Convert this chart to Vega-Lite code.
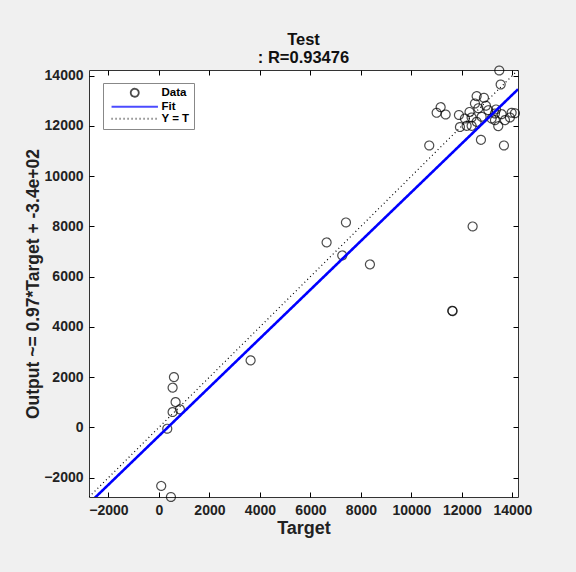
{
  "$schema": "https://vega.github.io/schema/vega-lite/v6.json",
  "autosize": "none",
  "width": 429,
  "height": 427,
  "padding": {"left": 89, "top": 70, "right": 58, "bottom": 75},
  "background": "#f0f0f0",
  "title": {
    "text": ["Test", ": R=0.93476"],
    "font": "Liberation Sans",
    "fontSize": 16.5,
    "fontWeight": "bold",
    "lineHeight": 18,
    "anchor": "middle",
    "offset": -3,
    "color": "#111111"
  },
  "datasets": {
    "points": [
      {"T": 90, "O": -2330, "series": "Data"},
      {"T": 475, "O": -2770, "series": "Data"},
      {"T": 594, "O": 2000, "series": "Data"},
      {"T": 541, "O": 1580, "series": "Data"},
      {"T": 660, "O": 1006, "series": "Data"},
      {"T": 541, "O": 610, "series": "Data"},
      {"T": 831, "O": 716, "series": "Data"},
      {"T": 330, "O": -53, "series": "Data"},
      {"T": 3630, "O": 2665, "series": "Data"},
      {"T": 7406, "O": 8154, "series": "Data"},
      {"T": 6640, "O": 7359, "series": "Data"},
      {"T": 7260, "O": 6842, "series": "Data"},
      {"T": 8356, "O": 6484, "series": "Data"},
      {"T": 12423, "O": 7995, "series": "Data"},
      {"T": 11616, "O": 4642, "series": "Data"},
      {"T": 11630, "O": 4625, "series": "Data"},
      {"T": 13478, "O": 14200, "series": "Data"},
      {"T": 13533, "O": 13643, "series": "Data"},
      {"T": 12582, "O": 13179, "series": "Data"},
      {"T": 12871, "O": 13115, "series": "Data"},
      {"T": 11156, "O": 12741, "series": "Data"},
      {"T": 10998, "O": 12518, "series": "Data"},
      {"T": 11354, "O": 12450, "series": "Data"},
      {"T": 11881, "O": 12430, "series": "Data"},
      {"T": 10705, "O": 11217, "series": "Data"},
      {"T": 12752, "O": 11442, "series": "Data"},
      {"T": 13663, "O": 11217, "series": "Data"},
      {"T": 13438, "O": 11985, "series": "Data"},
      {"T": 11921, "O": 11950, "series": "Data"},
      {"T": 13968, "O": 12518, "series": "Data"},
      {"T": 14099, "O": 12500, "series": "Data"},
      {"T": 12515, "O": 12888, "series": "Data"},
      {"T": 13042, "O": 12621, "series": "Data"},
      {"T": 13307, "O": 12490, "series": "Data"},
      {"T": 13572, "O": 12462, "series": "Data"},
      {"T": 13900, "O": 12331, "series": "Data"},
      {"T": 12118, "O": 12290, "series": "Data"},
      {"T": 12383, "O": 12331, "series": "Data"},
      {"T": 12779, "O": 12358, "series": "Data"},
      {"T": 13175, "O": 12290, "series": "Data"},
      {"T": 13703, "O": 12225, "series": "Data"},
      {"T": 12185, "O": 11998, "series": "Data"},
      {"T": 12383, "O": 11998, "series": "Data"},
      {"T": 12582, "O": 12157, "series": "Data"},
      {"T": 13307, "O": 12225, "series": "Data"},
      {"T": 12650, "O": 12700, "series": "Data"},
      {"T": 12300, "O": 12550, "series": "Data"},
      {"T": 12950, "O": 12800, "series": "Data"},
      {"T": 13350, "O": 12650, "series": "Data"}
    ],
    "lines": [
      {"T": -2770, "O": -3027, "series": "Fit"},
      {"T": 14220, "O": 13453, "series": "Fit"},
      {"T": -2770, "O": -2770, "series": "Y = T"},
      {"T": 14220, "O": 14220, "series": "Y = T"}
    ]
  },
  "layer": [
    {
      "data": {"name": "points"},
      "mark": {"type": "point", "filled": false, "size": 80, "strokeWidth": 1.2, "clip": false},
      "encoding": {
        "x": {
          "field": "T",
          "type": "quantitative",
          "scale": {"domain": [-2770, 14220], "nice": false, "zero": false},
          "axis": {"orient": "bottom", "title": "Target", "format": "d", "values": [-2000, 0, 2000, 4000, 6000, 8000, 10000, 12000, 14000]}
        },
        "y": {
          "field": "O",
          "type": "quantitative",
          "scale": {"domain": [-2770, 14220], "nice": false, "zero": false},
          "axis": {"orient": "left", "title": "Output ~= 0.97*Target + -3.4e+02", "format": "d", "values": [-2000, 0, 2000, 4000, 6000, 8000, 10000, 12000, 14000]}
        },
        "color": {
          "field": "series",
          "type": "nominal",
          "scale": {"domain": ["Data", "Fit", "Y = T"], "range": ["#000000", "#0000ff", "#000000"]},
          "legend": {
            "title": null,
            "orient": "none",
            "legendX": 14,
            "legendY": 13,
            "fillColor": "#ffffff",
            "strokeColor": "#888888",
            "padding": 4,
            "symbolSize": 64,
            "symbolOffset": 22,
            "symbolStrokeWidth": 1.8,
            "labelOffset": 21,
            "rowPadding": -3,
            "labelFont": "Liberation Sans",
            "labelFontSize": 11.5,
            "labelFontWeight": "bold",
            "labelColor": "#000000"
          }
        },
        "shape": {
          "field": "series",
          "type": "nominal",
          "scale": {"domain": ["Data", "Fit", "Y = T"], "range": ["circle", "M-5.8,0H5.8", "M-5.8,0H5.8"]},
          "legend": {"title": null}
        },
        "strokeDash": {
          "field": "series",
          "type": "nominal",
          "scale": {"domain": ["Data", "Fit", "Y = T"], "range": [[1, 0], [1, 0], [1, 3]]},
          "legend": {"title": null}
        }
      }
    },
    {
      "data": {"name": "lines"},
      "mark": {"type": "line", "clip": true},
      "encoding": {
        "x": {
          "field": "T",
          "type": "quantitative",
          "axis": {"orient": "top", "labels": false, "title": null, "values": [-2000, 0, 2000, 4000, 6000, 8000, 10000, 12000, 14000]}
        },
        "y": {
          "field": "O",
          "type": "quantitative",
          "axis": {"orient": "right", "labels": false, "title": null, "values": [-2000, 0, 2000, 4000, 6000, 8000, 10000, 12000, 14000]}
        },
        "detail": {"field": "series"},
        "color": {"field": "series", "type": "nominal", "legend": {"title": null}},
        "strokeDash": {"field": "series", "type": "nominal", "legend": {"title": null}},
        "strokeWidth": {
          "condition": {"test": "datum.series == 'Fit'", "value": 2.6},
          "value": 1.2
        }
      }
    }
  ],
  "resolve": {"axis": {"x": "independent", "y": "independent"}},
  "config": {
    "view": {"stroke": "#333333", "strokeWidth": 1, "fill": "#ffffff"},
    "axis": {
      "grid": false,
      "domain": false,
      "offset": -5,
      "tickSize": 5,
      "tickColor": "#000000",
      "tickWidth": 1,
      "labelPadding": 6,
      "labelFont": "Liberation Sans",
      "labelFontSize": 14,
      "labelFontWeight": "bold",
      "labelColor": "#222222",
      "titleFont": "Liberation Sans",
      "titleFontWeight": "bold",
      "titleColor": "#222222"
    },
    "axisBottom": {"titlePadding": 2, "titleFontSize": 18},
    "axisLeft": {"titlePadding": 1, "titleFontSize": 17.5}
  }
}
